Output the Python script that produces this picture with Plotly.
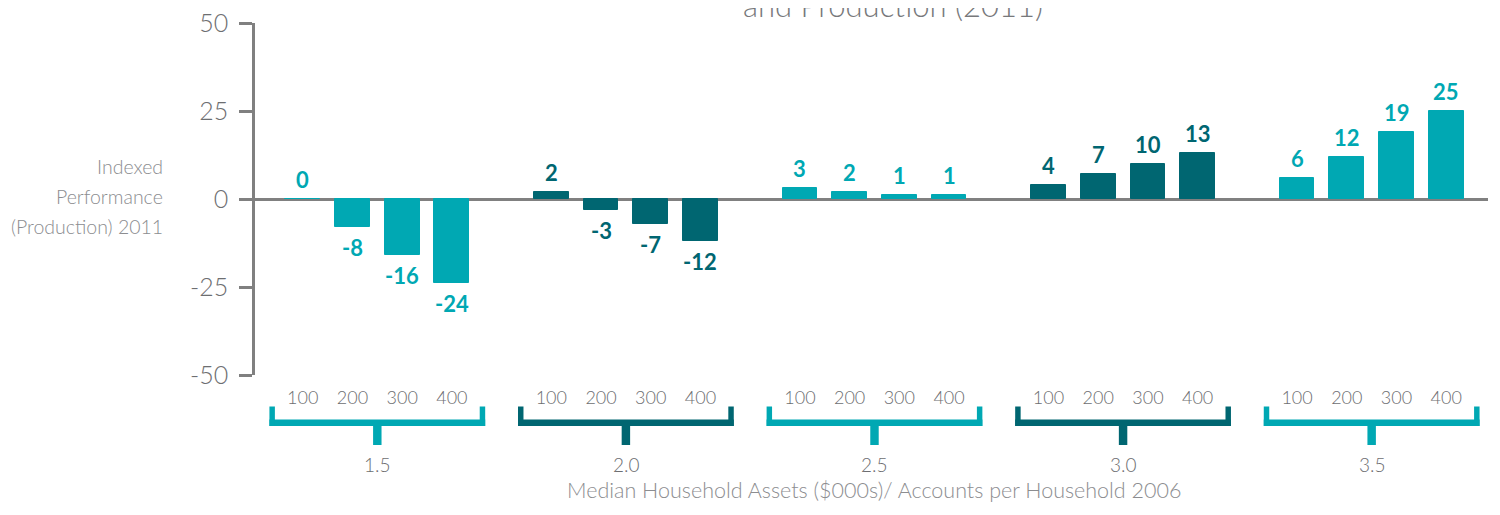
import plotly.graph_objects as go

# ---- data ----
groups = ["1.5", "2.0", "2.5", "3.0", "3.5"]          # accounts per household
assets = ["100", "200", "300", "400"]                # median household assets ($000s)
values_15 = [0, -8, -16, -24]
values_20 = [2, -3, -7, -12]
values_25 = [3, 2, 1, 1]
values_30 = [4, 7, 10, 13]
values_35 = [6, 12, 19, 25]
series = [values_15, values_20, values_25, values_30, values_35]

LIGHT = "#00A8B3"
DARK = "#006671"
group_colors = [LIGHT, DARK, LIGHT, DARK, LIGHT]

y_ticks = [-50, -25, 0, 25, 50]
y_ticktext = ["-50", "-25", "0", "25", "50"]

TITLE = "and Production (2011)"
Y_TITLE_LINES = ["Indexed", "Performance", "(Production) 2011"]
X_TITLE = "Median Household Assets ($000s)/ Accounts per Household 2006"

# ---- layout constants ----
OFF = 8                      # page body margin (figure is drawn 8px in from the window edge)
W, H = 1500 - OFF, 515 - OFF
ML, MR, MT, MB = 255 - OFF, 12, 23 - OFF, 140
PLOT_H = H - MT - MB
PLOT_W = W - ML - MR
GAP = 1  # empty slot between groups
FONT = "Lato"
GRAY_AX = "#808080"
GRAY_TXT = "#6d6e71"
GRAY_LIGHT = "#8c8d90"


def py(pix):
    """screenshot pixel row -> paper y"""
    return (H - MB - (pix - OFF)) / PLOT_H


def px(pix):
    """screenshot pixel column -> paper x"""
    return (pix - OFF - ML) / PLOT_W


xs, ys, cols = [], [], []
for g, vals in enumerate(series):
    for i, v in enumerate(vals):
        xs.append(g * (len(assets) + GAP) + i)
        ys.append(v)
        cols.append(group_colors[g])

fig = go.Figure()
fig.add_trace(go.Bar(
    x=xs, y=ys, width=0.7,
    marker=dict(color=cols, line=dict(color=cols, width=1)),
    hoverinfo="x+y", showlegend=False,
))

annotations = []
# value labels
for x, v, c in zip(xs, ys, cols):
    annotations.append(dict(
        x=x, y=v, xref="x", yref="y", text=f"{v}", showarrow=False,
        yanchor="bottom" if v >= 0 else "top",
        yshift=4 if v >= 0 else -5,
        font=dict(family=FONT, size=22, color=c, weight=700),
    ))

shapes = []
n = len(assets)
for g, name in enumerate(groups):
    c = g * (n + GAP) + (n - 1) / 2
    col = group_colors[g]
    hw = 2.17
    for x0, x1, y0, y1 in [
        (c - hw, c + hw, 426, 419.5),
        (c - hw, c - hw + 0.11, 426, 406.5),
        (c + hw - 0.11, c + hw, 426, 406.5),
        (c - 0.085, c + 0.085, 445, 425),
    ]:
        shapes.append(dict(type="rect", xref="x", yref="paper",
                           x0=x0, x1=x1, y0=py(y0), y1=py(y1),
                           fillcolor=col, line=dict(width=0), layer="above"))
    annotations.append(dict(
        x=c, y=py(464), xref="x", yref="paper", text=name, showarrow=False,
        yanchor="middle", font=dict(family=FONT, size=19, color=GRAY_TXT, weight=300),
    ))

# y-axis title, one line each (line spacing of the original)
for k, line in enumerate(Y_TITLE_LINES):
    annotations.append(dict(
        x=px(165), y=py(166 + 30 * k), xref="paper", yref="paper",
        text=line, showarrow=False, xanchor="right", yanchor="middle",
        font=dict(family=FONT, size=19.5, color=GRAY_LIGHT, weight=300),
    ))
annotations.append(dict(
    x=(len(groups) * (n + GAP) - GAP - 1) / 2, y=py(490), xref="x", yref="paper",
    text=X_TITLE, showarrow=False, yanchor="middle",
    font=dict(family=FONT, size=21.5, color=GRAY_LIGHT, weight=300),
))
annotations.append(dict(
    x=px(893), y=py(26), xref="paper", yref="paper",
    text=TITLE, showarrow=False, yanchor="bottom",
    font=dict(family=FONT, size=31, color="#77787b", weight=300),
))

fig.update_layout(
    width=W, height=H,
    margin=dict(l=ML, r=MR, t=MT, b=MB, pad=0, autoexpand=False),
    plot_bgcolor="white", paper_bgcolor="white",
    bargap=0,
    annotations=annotations, shapes=shapes,
    font=dict(family=FONT, color=GRAY_TXT),
)
fig.update_xaxes(
    range=[-0.96, 23.84], automargin=False,
    tickvals=xs, ticktext=[assets[i % n] for i in range(len(xs))],
    ticks="", showline=False, showgrid=False, zeroline=False,
    ticklabelstandoff=10,
    tickfont=dict(family=FONT, size=18, color=GRAY_TXT, weight=300),
)
fig.update_yaxes(
    range=[-50, 50], tickvals=y_ticks, ticktext=y_ticktext, automargin=False,
    ticks="outside", ticklen=13, tickwidth=2.5, tickcolor=GRAY_AX,
    showline=True, linewidth=2.7, linecolor=GRAY_AX,
    zeroline=True, zerolinecolor=GRAY_AX, zerolinewidth=3,
    showgrid=False,
    ticklabelstandoff=6, ticklabeloverflow="allow",
    tickfont=dict(family=FONT, size=25, color=GRAY_TXT, weight=300),
)

fig.write_html("out.html")
